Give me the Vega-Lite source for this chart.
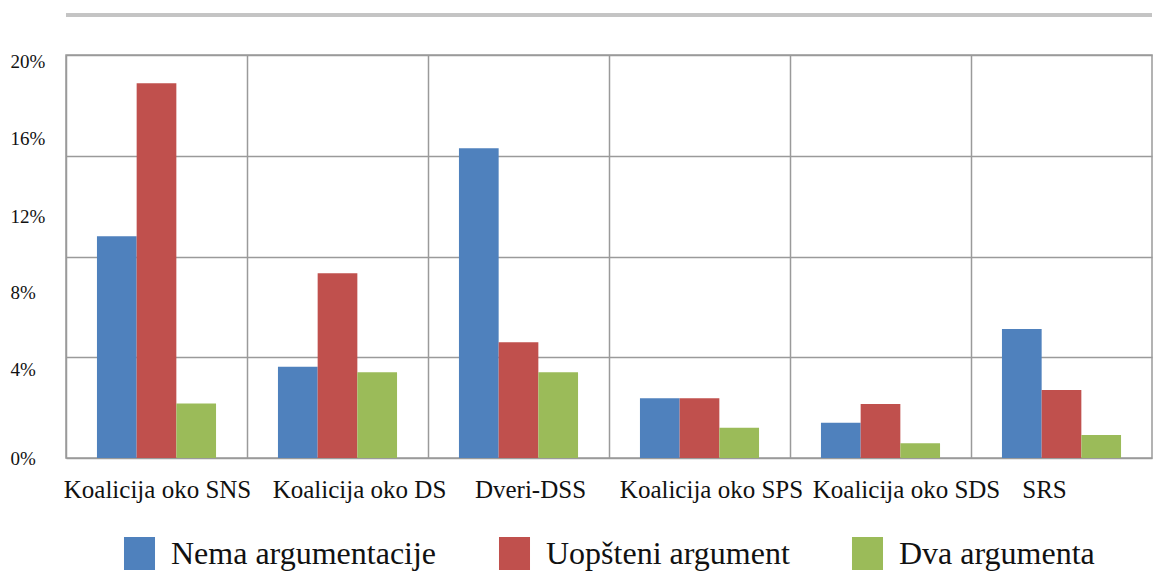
{
  "$schema": "https://vega.github.io/schema/vega-lite/v6.json",
  "autosize": {"type": "none"},
  "padding": {"left": 66, "top": 55, "right": 15, "bottom": 118},
  "width": 1086,
  "height": 403,
  "background": "white",
  "config": {
    "font": "Liberation Serif",
    "view": {"stroke": "#9a9a9a", "strokeWidth": 1.5},
    "axis": {"labelFont": "Liberation Serif", "labelColor": "#111111"}
  },
  "data": {"values": [
    {"party": "Koalicija oko SNS", "type": "Nema argumentacije", "value": 11.0},
    {"party": "Koalicija oko SNS", "type": "Uopšteni argument", "value": 18.6},
    {"party": "Koalicija oko SNS", "type": "Dva argumenta", "value": 2.7},
    {"party": "Koalicija oko DS", "type": "Nema argumentacije", "value": 4.53},
    {"party": "Koalicija oko DS", "type": "Uopšteni argument", "value": 9.17},
    {"party": "Koalicija oko DS", "type": "Dva argumenta", "value": 4.25},
    {"party": "Dveri-DSS", "type": "Nema argumentacije", "value": 15.37},
    {"party": "Dveri-DSS", "type": "Uopšteni argument", "value": 5.74},
    {"party": "Dveri-DSS", "type": "Dva argumenta", "value": 4.25},
    {"party": "Koalicija oko SPS", "type": "Nema argumentacije", "value": 2.96},
    {"party": "Koalicija oko SPS", "type": "Uopšteni argument", "value": 2.96},
    {"party": "Koalicija oko SPS", "type": "Dva argumenta", "value": 1.5},
    {"party": "Koalicija oko SDS", "type": "Nema argumentacije", "value": 1.75},
    {"party": "Koalicija oko SDS", "type": "Uopšteni argument", "value": 2.68},
    {"party": "Koalicija oko SDS", "type": "Dva argumenta", "value": 0.73},
    {"party": "SRS", "type": "Nema argumentacije", "value": 6.4},
    {"party": "SRS", "type": "Uopšteni argument", "value": 3.37},
    {"party": "SRS", "type": "Dva argumenta", "value": 1.14}
  ]},
  "resolve": {"axis": {"y": "independent"}},
  "layer": [
    {
      "mark": {"type": "bar"},
      "encoding": {
        "x": {
          "field": "party", "type": "nominal", "sort": null,
          "scale": {"paddingInner": 0, "paddingOuter": 0},
          "axis": {
            "title": null, "bandPosition": 0, "grid": true,
            "gridColor": "#9a9a9a", "gridWidth": 1.5,
            "ticks": false, "tickSize": 0, "domain": false,
            "labelAngle": 0, "labelAlign": "center",
            "labelOffset": {
              "condition": [
                {"test": "datum.value == 'Koalicija oko SNS'", "value": 1},
                {"test": "datum.value == 'Koalicija oko DS'", "value": 22},
                {"test": "datum.value == 'Koalicija oko SDS'", "value": 26},
                {"test": "datum.value == 'SRS'", "value": -17}
              ],
              "value": 12
            },
            "labelPadding": 19, "labelFontSize": 25, "labelBaseline": "top",
            "labelLimit": 300
          }
        },
        "xOffset": {
          "field": "type", "type": "nominal", "sort": ["Nema argumentacije", "Uopšteni argument", "Dva argumenta"],
          "scale": {"paddingInner": 0, "paddingOuter": 0.78}
        },
        "y": {
          "field": "value", "type": "quantitative",
          "scale": {"domain": [0, 20], "nice": false},
          "axis": {
            "title": null, "values": [0, 5, 10, 15, 20], "grid": true,
            "gridColor": "#9a9a9a", "gridWidth": 1.5,
            "labels": false, "ticks": false, "tickSize": 0, "domain": false
          }
        },
        "color": {
          "field": "type", "type": "nominal",
          "sort": ["Nema argumentacije", "Uopšteni argument", "Dva argumenta"],
          "scale": {"domain": ["Nema argumentacije", "Uopšteni argument", "Dva argumenta"], "range": ["#4f81bd", "#c0504d", "#9bbb59"]},
          "legend": {
            "title": null, "orient": "none", "direction": "horizontal",
            "legendX": 57, "legendY": 482,
            "symbolType": "M-0.94,-1H0.94V1H-0.94Z", "symbolSize": 1089,
            "symbolStrokeWidth": 0,
            "labelFont": "Liberation Serif", "labelFontSize": 32, "labelColor": "#111111",
            "labelOffset": 15, "columnPadding": 61, "labelLimit": 400
          }
        }
      }
    },
    {
      "mark": {"type": "rule", "color": "#c4c4c4", "strokeWidth": 3, "clip": false},
      "encoding": {
        "y": {
          "datum": 22, "type": "quantitative",
          "axis": {
            "orient": "left", "title": null, "values": [0, 4, 8, 12, 16, 20],
            "format": ".0f", "labelExpr": "datum.label + '%'",
            "grid": false, "ticks": false, "tickSize": 0, "domain": false,
            "labelAlign": "left", "labelPadding": 56, "labelFontSize": 19,
            "labelOffset": {
              "condition": [
                {"test": "datum.value == 20", "value": 6},
                {"test": "datum.value == 16", "value": 3},
                {"test": "datum.value == 8", "value": -4},
                {"test": "datum.value == 4", "value": -8}
              ],
              "value": 0
            }
          }
        }
      }
    }
  ]
}
